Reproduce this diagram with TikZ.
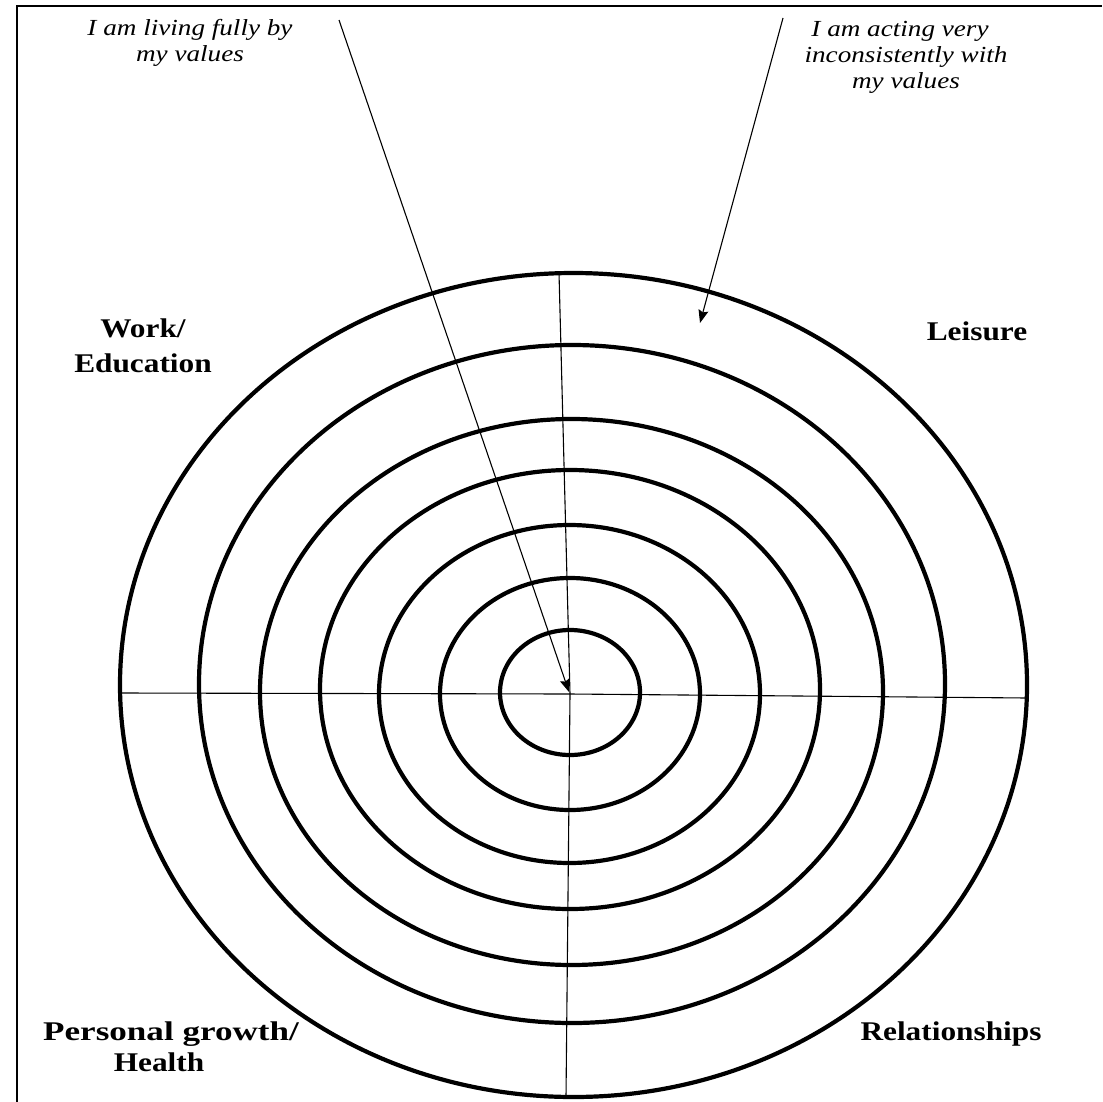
\documentclass[tikz,border=0pt]{standalone}
\usepackage{fontspec}
\setmainfont{Liberation Serif}
\usetikzlibrary{arrows.meta}
\begin{document}
\begin{tikzpicture}[x=0.5pt,y=-0.5pt,
  ring/.style={line width=2.1pt},
  axisline/.style={line width=0.55pt},
  frameline/.style={line width=1pt},
  arr/.style={line width=0.55pt,-{Stealth[length=6.5pt,width=5pt,inset=1pt]}},
  lbl/.style={font=\fontsize{13.5}{16}\selectfont\bfseries, xscale=1.16, inner sep=0pt, anchor=base},
  note/.style={font=\fontsize{11.5}{13}\selectfont\itshape, xscale=1.18, inner sep=0pt, anchor=base}]
\useasboundingbox (0,0) rectangle (1102,1102);
% frame
\draw[frameline] (17,1102) -- (17,6) -- (1102,6);
% rings
\draw[ring] (570,692.5) ellipse [x radius=35pt, y radius=31.25pt];
\draw[ring] (570,694) ellipse [x radius=65pt, y radius=58pt];
\draw[ring] (569.5,694) ellipse [x radius=95.25pt, y radius=84.5pt];
\draw[ring] (570,689.5) ellipse [x radius=125pt, y radius=109.75pt];
\draw[ring] (571.5,692) ellipse [x radius=155.75pt, y radius=136.5pt];
\draw[ring] (572,684) ellipse [x radius=186.5pt, y radius=169.5pt];
\draw[ring] (573.5,685) ellipse [x radius=226.75pt, y radius=206pt];
% axes
\coordinate (c) at (570,694);
\coordinate (vt) at (559,273);
\coordinate (vb) at (566,1097);
\coordinate (hl) at (120,693);
\coordinate (hr) at (1027,698);
\draw[axisline] (vt) -- (c) -- (vb);
\draw[axisline] (hl) -- (c) -- (hr);
% arrows
\coordinate (a1s) at (339,20);
\coordinate (a1e) at (569,692);
\coordinate (a2s) at (783,18);
\coordinate (a2e) at (700,323);
\draw[arr] (a1s) -- (a1e);
\draw[arr] (a2s) -- (a2e);
% notes
\node[note] (n1a) at (190,36) {I am living fully by};
\node[note] (n1b) at (190,62) {my values};
\node[note] (n2a) at (900,37) {I am acting very};
\node[note] (n2b) at (906,63) {inconsistently with};
\node[note] (n2c) at (906,89) {my values};
% labels
\node[lbl] (work) at (143,337) {Work/};
\node[lbl] (edu) at (143,372) {Education};
\node[lbl] (leis) at (977,340) {Leisure};
\node[lbl, xscale=1.12] (pers) at (171,1040) {Personal growth/};
\node[lbl] (hlth) at (159,1071) {Health};
\node[lbl] (rel) at (951,1040) {Relationships};
\end{tikzpicture}
\end{document}
